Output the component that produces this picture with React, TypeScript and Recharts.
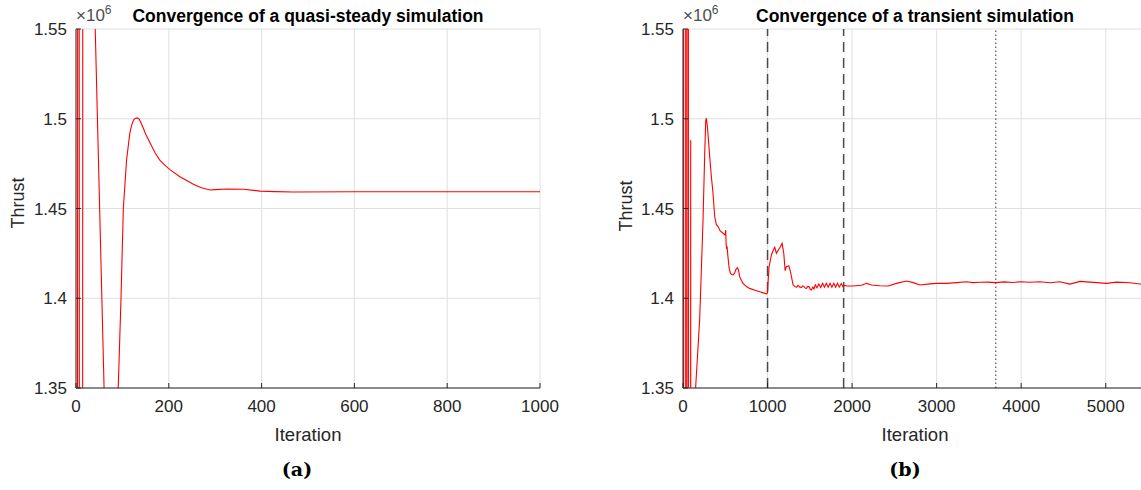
import React from "react";
import { LineChart, Line, XAxis, YAxis, CartesianGrid, ReferenceLine } from "recharts";

// ---------- data (thrust in units of 10^6) ----------
const leftIter = [0, 3, 4, 6.5, 7.5, 14, 15, 38, 40, 61, 75, 88, 91, 97, 102, 109, 116, 120, 124, 128, 132, 136, 140, 145, 150, 160, 170, 181, 192, 203, 224, 253, 270, 289, 300, 325, 361, 397, 430, 468, 600, 800, 1000];
const leftThrust = [1.0, 1.0, 2.0, 2.0, 1.0, 1.0, 2.0, 2.0, 1.565, 1.345, 1.25, 1.32, 1.35, 1.4, 1.45, 1.477, 1.492, 1.4965, 1.4993, 1.5003, 1.5005, 1.4998, 1.4978, 1.4948, 1.4915, 1.4863, 1.4812, 1.4768, 1.474, 1.4715, 1.4677, 1.4635, 1.4616, 1.4603, 1.4605, 1.4609, 1.4607, 1.4597, 1.4594, 1.4592, 1.4593, 1.4593, 1.4593];

const rightIter = [0, 7, 9, 31, 33, 46, 48, 63, 65, 89, 91, 93, 136, 150, 197, 237, 257, 269, 277, 290, 316, 335, 355, 375, 395, 415, 440, 474, 500, 505, 510, 516, 521, 530, 545, 560, 575, 592, 610, 625, 643, 655, 671, 690, 710, 750, 789, 850, 908, 950, 986, 998, 1018, 1046, 1070, 1085, 1105, 1132, 1150, 1172, 1192, 1208, 1223, 1251, 1271, 1302, 1322, 1342, 1361, 1381, 1401, 1415, 1429, 1445, 1460, 1476, 1492, 1505, 1519, 1535, 1549, 1565, 1585, 1607, 1629, 1651, 1673, 1695, 1717, 1739, 1761, 1783, 1805, 1827, 1849, 1871, 1893, 1910, 1934, 2013, 2111, 2170, 2229, 2328, 2426, 2525, 2644, 2723, 2802, 2920, 3000, 3117, 3236, 3354, 3433, 3512, 3600, 3700, 3800, 3900, 4000, 4100, 4222, 4341, 4459, 4577, 4696, 4814, 5011, 5129, 5287, 5406, 5500];
const rightThrust = [1.0, 1.0, 1.9, 1.9, 1.0, 1.0, 1.9, 1.9, 1.0, 1.0, 1.488, 1.0, 1.25, 1.3507, 1.388, 1.4436, 1.481, 1.499, 1.5003, 1.495, 1.4789, 1.468, 1.4585, 1.4454, 1.441, 1.4399, 1.4375, 1.4362, 1.4352, 1.438, 1.43, 1.4275, 1.429, 1.424, 1.417, 1.414, 1.4132, 1.413, 1.414, 1.416, 1.417, 1.416, 1.412, 1.41, 1.4083, 1.4065, 1.4055, 1.4045, 1.4036, 1.403, 1.4024, 1.4028, 1.4176, 1.4241, 1.427, 1.4284, 1.425, 1.4272, 1.4285, 1.4306, 1.425, 1.4154, 1.4176, 1.4181, 1.4148, 1.4074, 1.4066, 1.4061, 1.4072, 1.4062, 1.4061, 1.4069, 1.4066, 1.4057, 1.4055, 1.4066, 1.4064, 1.405, 1.4046, 1.4062, 1.4052, 1.4075, 1.4058, 1.408, 1.406, 1.4083, 1.4061, 1.4083, 1.4061, 1.4083, 1.4061, 1.4083, 1.4061, 1.4083, 1.4062, 1.4082, 1.4064, 1.4072, 1.4068, 1.4068, 1.4072, 1.4083, 1.4074, 1.407, 1.4068, 1.4083, 1.4096, 1.4087, 1.4074, 1.408, 1.4083, 1.4083, 1.4087, 1.4092, 1.4087, 1.4089, 1.409, 1.4087, 1.4091, 1.4088, 1.4092, 1.4089, 1.4092, 1.4086, 1.4092, 1.4079, 1.4094, 1.409, 1.4083, 1.409, 1.4086, 1.4079, 1.4082];

const yTicks = [1.35, 1.4, 1.45, 1.5, 1.55];
const leftXTicks = [0, 200, 400, 600, 800, 1000];
const rightXTicks = [0, 1000, 2000, 3000, 4000, 5000];
const dashedMarks = [1000, 1900];
const dottedMarks = [3700];

const titles = ["Convergence of a quasi-steady simulation", "Convergence of a transient simulation"];
const captions = ["(a)", "(b)"];

// ---------- styles ----------
const AX = "#262626";
const FONT = "'Liberation Sans', Arial, Helvetica, sans-serif";
const TICK_FS = 17;

const leftData = leftIter.map((it, i) => ({ iter: it, thrust: leftThrust[i] }));
const rightData = rightIter.map((it, i) => ({ iter: it, thrust: rightThrust[i] }));

const fmtY = (v: number) => String(Number(v.toFixed(2)));

const BottomTick = (p: any) => (
  <g>
    <line x1={p.x} y1={p.y} x2={p.x} y2={p.y - 5} stroke={AX} strokeWidth={1} />
    <text x={p.x} y={p.y + 24} textAnchor="middle" fontSize={TICK_FS} fill={AX} fontFamily={FONT}>
      {p.payload.value}
    </text>
  </g>
);
const TopTick = (p: any) => (
  <line x1={p.x} y1={p.y} x2={p.x} y2={p.y + 5} stroke={AX} strokeWidth={1} />
);
const LeftTick = (p: any) => (
  <g>
    <line x1={p.x} y1={p.y} x2={p.x + 5} y2={p.y} stroke={AX} strokeWidth={1} />
    <text x={p.x - 9} y={p.y} dy="0.36em" textAnchor="end" fontSize={TICK_FS} fill={AX} fontFamily={FONT}>
      {fmtY(p.payload.value)}
    </text>
  </g>
);
const RightTick = (p: any) => (
  <line x1={p.x} y1={p.y} x2={p.x - 5} y2={p.y} stroke={AX} strokeWidth={1} />
);

type PanelProps = {
  data: { iter: number; thrust: number }[];
  xDomain: [number, number];
  xTicks: number[];
  margin: { top: number; right: number; bottom: number; left: number };
  marks?: boolean;
};

const Panel = ({ data, xDomain, xTicks, margin, marks }: PanelProps) => (
  <LineChart width={560} height={490} data={data} margin={margin}>
    <CartesianGrid xAxisId="b" yAxisId="l" stroke="#dfdfdf" strokeWidth={1} />
    <XAxis
      xAxisId="b"
      dataKey="iter"
      type="number"
      domain={xDomain}
      ticks={xTicks}
      allowDataOverflow
      height={30}
      tickSize={0}
      tickMargin={0}
      tickLine={false}
      axisLine={{ stroke: AX, strokeWidth: 1 }}
      tick={<BottomTick />}
      interval={0}
    />
    <XAxis
      xAxisId="t"
      orientation="top"
      dataKey="iter"
      type="number"
      domain={xDomain}
      ticks={xTicks}
      allowDataOverflow
      height={0}
      tickSize={0}
      tickMargin={0}
      tickLine={false}
      axisLine={{ stroke: AX, strokeWidth: 1 }}
      tick={<TopTick />}
      interval={0}
    />
    <YAxis
      yAxisId="l"
      type="number"
      domain={[1.35, 1.55]}
      ticks={yTicks}
      allowDataOverflow
      width={60}
      tickSize={0}
      tickMargin={0}
      tickLine={false}
      axisLine={{ stroke: AX, strokeWidth: 1 }}
      tick={<LeftTick />}
      interval={0}
    />
    <YAxis
      yAxisId="r"
      orientation="right"
      type="number"
      domain={[1.35, 1.55]}
      ticks={yTicks}
      allowDataOverflow
      width={0}
      tickSize={0}
      tickMargin={0}
      tickLine={false}
      axisLine={{ stroke: AX, strokeWidth: 1 }}
      tick={<RightTick />}
      interval={0}
    />
    {marks &&
      dashedMarks.map((m) => (
        <ReferenceLine key={"d" + m} xAxisId="b" yAxisId="l" x={m} stroke="#4a4a4a" strokeWidth={1.5} strokeDasharray="10 6" />
      ))}
    {marks &&
      dottedMarks.map((m) => (
        <ReferenceLine key={"o" + m} xAxisId="b" yAxisId="l" x={m} stroke="#333333" strokeWidth={1} strokeDasharray="1.5 2.5" />
      ))}
    <Line
      xAxisId="b"
      yAxisId="l"
      type="linear"
      dataKey="thrust"
      stroke="#ff0000"
      strokeWidth={1.1}
      dot={false}
      activeDot={false}
      isAnimationActive={false}
    />
  </LineChart>
);

const abs = (s: React.CSSProperties): React.CSSProperties => ({ position: "absolute", ...s });

const Exponent = ({ left }: { left: number }) => (
  <div style={abs({ left, top: 6, height: 20, fontFamily: FONT, fontSize: 17, color: "#4d4d4d", lineHeight: "20px", whiteSpace: "nowrap" })}>
    <span>×10</span>
    <span style={{ fontSize: 12, position: "relative", top: -7 }}>6</span>
  </div>
);

const labelStyle = (left: number, top: number, size: number, rotate = false): React.CSSProperties =>
  abs({
    left,
    top,
    transform: rotate ? "translate(-50%, -50%) rotate(-90deg)" : "translate(-50%, -50%)",
    fontFamily: FONT,
    fontSize: size,
    color: AX,
    whiteSpace: "nowrap",
  });

export default function App() {
  return (
    <div style={abs({ left: 0, top: 0, width: 1141, height: 490, overflow: "hidden", background: "#fff" })}>
      <div style={abs({ left: 0, top: 0 })}>
        <Panel data={leftData} xDomain={[0, 1000]} xTicks={leftXTicks} margin={{ top: 29, right: 20, bottom: 72, left: 16 }} />
      </div>
      <div style={abs({ left: 600, top: 0 })}>
        <Panel data={rightData} xDomain={[0, 5500]} xTicks={rightXTicks} margin={{ top: 29, right: 12, bottom: 72, left: 23 }} marks />
      </div>

      {/* titles */}
      <div style={{ ...labelStyle(308, 16, 17.5), fontWeight: "bold", color: "#000" }}>{titles[0]}</div>
      <div style={{ ...labelStyle(915, 16, 17.5), fontWeight: "bold", color: "#000" }}>{titles[1]}</div>

      <Exponent left={76} />
      <Exponent left={683} />

      {/* y labels */}
      <div style={labelStyle(18, 203, 18, true)}>Thrust</div>
      <div style={labelStyle(626, 206, 18, true)}>Thrust</div>

      {/* x labels */}
      <div style={labelStyle(308, 435, 18.5)}>Iteration</div>
      <div style={labelStyle(915, 435, 18.5)}>Iteration</div>

      {/* captions */}
      <div style={{ ...labelStyle(297, 469, 19), fontFamily: "'DejaVu Serif', 'Liberation Serif', serif", fontWeight: "bold", color: "#000" }}>
        {captions[0]}
      </div>
      <div style={{ ...labelStyle(905, 469, 19), fontFamily: "'DejaVu Serif', 'Liberation Serif', serif", fontWeight: "bold", color: "#000" }}>
        {captions[1]}
      </div>
    </div>
  );
}
